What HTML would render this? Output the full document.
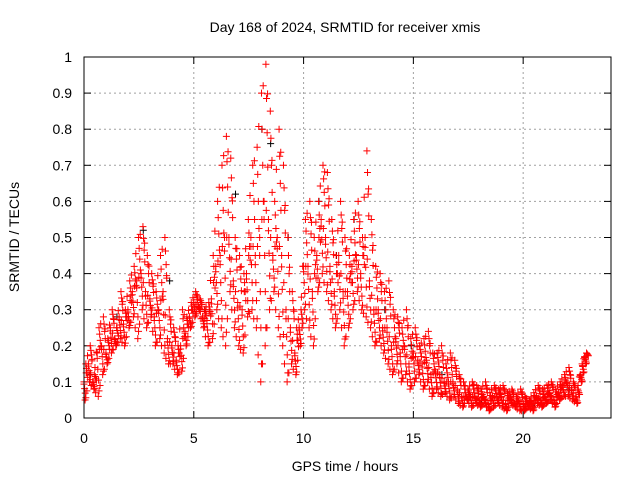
<!DOCTYPE html>
<html><head><meta charset="utf-8"><style>
html,body{margin:0;padding:0;background:#fff;}
svg text{font-family:"Liberation Sans",sans-serif;font-size:14px;fill:#000;}
</style></head><body>
<svg id="chart" width="640" height="480" xmlns="http://www.w3.org/2000/svg">
<text x="345" y="32" text-anchor="middle">Day 168 of 2024, SRMTID for receiver xmis</text>
<text x="345" y="471" text-anchor="middle">GPS time / hours</text>
<text x="0" y="0" text-anchor="middle" transform="translate(19,237) rotate(-90)">SRMTID / TECUs</text>
<g id="grid"></g><g id="ticks"></g><g id="pts"></g>
<rect x="84" y="57" width="527" height="361" fill="none" stroke="#000" stroke-width="1"/>
</svg>
<script>
const xTicks=[0,5,10,15,20];
const yTicks=[0,0.1,0.2,0.3,0.4,0.5,0.6,0.7,0.8,0.9,1];
const yTickLabels=["0","0.1","0.2","0.3","0.4","0.5","0.6","0.7","0.8","0.9","1"];
const tStart=0, tStep=0.2;
const redA=[.15,.2,.12,.25,.28,.22,.3,.25,.35,.3,.38,.42,.5,.53,.45,.4,.35,.45,.5,.3,.25,.2,.3,.28,.32,.35,.33,.3,.32,.45,.6,.7,.78,.72,.5,.45,.4,.55,.7,.75,.9,.98,.85,.6,.8,.7,.5,.35,.25,.3,.55,.6,.5,.6,.7,.68,.55,.45,.6,.5,.45,.55,.6,.5,.74,.55,.42,.4,.35,.38,.3,.28,.25,.3,.22,.25,.2,.22,.24,.18,.18,.2,.15,.18,.16,.12,.1,.08,.1,.09,.08,.1,.07,.09,.08,.09,.07,.08,.06,.08,.06,.05,.07,.09,.08,.09,.1,.08,.1,.12,.14,.1,.08,.15,.18];
const redB=[.05,.1,.08,.06,.12,.15,.18,.2,.22,.2,.25,.28,.22,.3,.25,.28,.2,.22,.18,.15,.15,.12,.13,.2,.25,.28,.3,.25,.2,.22,.3,.25,.2,.35,.25,.2,.18,.28,.3,.25,.1,.2,.3,.35,.25,.2,.1,.15,.12,.2,.3,.25,.2,.35,.4,.35,.3,.25,.3,.2,.25,.3,.35,.3,.28,.25,.2,.22,.18,.15,.12,.15,.1,.12,.08,.1,.12,.08,.1,.06,.08,.06,.07,.05,.06,.04,.03,.05,.03,.04,.03,.04,.02,.03,.04,.03,.02,.04,.03,.02,.02,.03,.02,.04,.03,.04,.05,.03,.05,.06,.06,.05,.04,.1,.15];
const redC=[.1,.15,.1,.18,.2,.18,.25,.22,.28,.26,.3,.35,.38,.4,.35,.33,.28,.3,.35,.22,.2,.16,.2,.24,.28,.32,.31,.28,.27,.33,.42,.45,.5,.5,.38,.32,.3,.4,.5,.45,.5,.6,.55,.45,.5,.45,.3,.25,.18,.25,.42,.42,.35,.45,.55,.5,.42,.35,.45,.35,.35,.42,.45,.4,.5,.38,.3,.3,.25,.25,.2,.22,.18,.2,.15,.18,.16,.15,.16,.12,.13,.12,.1,.1,.1,.08,.06,.06,.06,.06,.05,.06,.04,.06,.06,.06,.04,.06,.04,.05,.04,.04,.04,.06,.05,.06,.07,.05,.07,.09,.1,.08,.06,.12,.17];
const blackT=[0.3,1.5,2.7,3.9,5.5,6.9,8.1,8.5,9.3,10.7,11.5,12.3,13.7,14.9,16.3,18.1,20.5,22.1];
const blackV=[.12,.28,.52,.38,.3,.62,.8,.76,.5,.6,.45,.55,.3,.2,.12,.05,.04,.08];
const X=v=>84+v*(527/24), Y=v=>418-v*361;
const NS="http://www.w3.org/2000/svg";
const grid=document.getElementById('grid'),ticks=document.getElementById('ticks'),pts=document.getElementById('pts');
function mk(tag,attrs,parent){const e=document.createElementNS(NS,tag);for(const k in attrs)e.setAttribute(k,attrs[k]);parent.appendChild(e);return e;}
xTicks.forEach(v=>{
 if(v>0){const g=mk('line',{x1:X(v),x2:X(v),y1:57,y2:418,stroke:'#a0a0a0','stroke-dasharray':'2,3'},grid);
 
 }
 mk('line',{x1:X(v),x2:X(v),y1:418,y2:411,stroke:'#000'},ticks);
 mk('line',{x1:X(v),x2:X(v),y1:57,y2:64,stroke:'#000'},ticks);
 const t=mk('text',{x:X(v),y:443,'text-anchor':'middle'},ticks);t.textContent=v;
 
 
});
yTicks.forEach((v,i)=>{
 if(v>0&&v<1){const g=mk('line',{x1:84,x2:611,y1:Y(v),y2:Y(v),stroke:'#a0a0a0','stroke-dasharray':'2,3'},grid);
 
 }
 mk('line',{x1:84,x2:91,y1:Y(v),y2:Y(v),stroke:'#000'},ticks);
 mk('line',{x1:611,x2:604,y1:Y(v),y2:Y(v),stroke:'#000'},ticks);
 const t=mk('text',{x:72,y:Y(v)+5,'text-anchor':'end'},ticks);t.textContent=yTickLabels[i];
 
 
});
function plus(t,v,col){const x=X(t),y=Y(v);
 const p=mk('path',{d:`M${x-3.5},${y}H${x+3.5}M${x},${y-3.5}V${y+3.5}`,stroke:col,'stroke-width':1,fill:'none'},pts);
 
 }
blackT.forEach((t,i)=>plus(t,blackV[i],'#000'));
const N=8;
redA.forEach((a,i)=>{
 const b=redB[i],c=redC[i],t0=tStart+i*tStep;
 for(let k=0;k<=N;k++){
  const f=k/N;
  const v=k%2? b+(c-b)*f : c+(a-c)*f;
  plus(t0+((k*3)%7)*0.028,v,'#ff0000');
 }
 plus(t0+0.05,b,'#ff0000');
 if(i+1<redA.length){
  const nb=redB[i+1],na=redA[i+1],nc=redC[i+1];
  plus(t0+0.1,(c+nc)/2,'#ff0000');
  plus(t0+0.13,(b+nb)/2,'#ff0000');
  plus(t0+0.16,(a+na)/2*0.95+(c+nc)/2*0.05,'#ff0000');
 }
});
</script>
</body></html>
